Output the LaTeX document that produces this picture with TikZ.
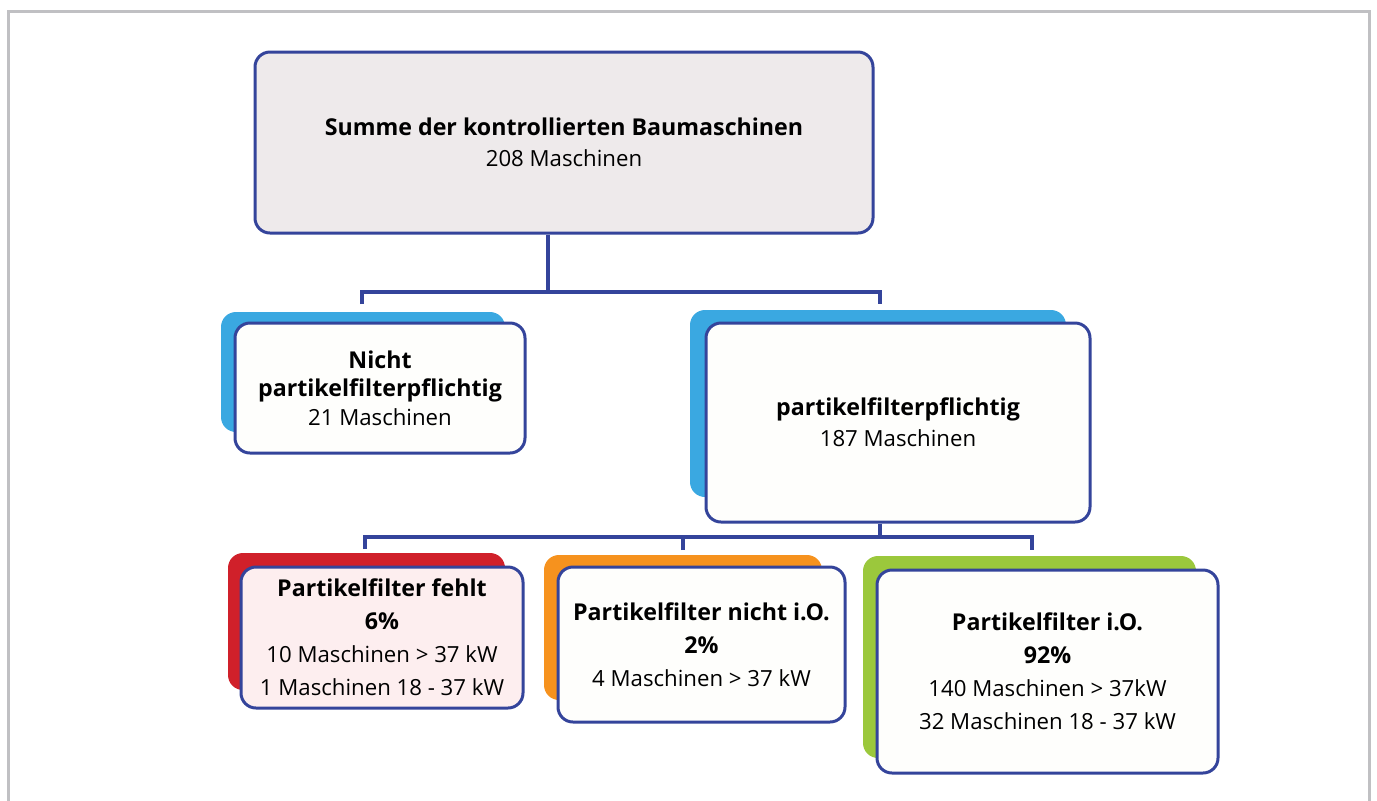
\documentclass[tikz,border=0pt]{standalone}
\usepackage{fontspec}
\setmainfont{Open Sans}
\definecolor{bordblue}{RGB}{52,68,155}
\definecolor{shblue}{RGB}{58,168,225}
\definecolor{shred}{RGB}{208,32,42}
\definecolor{shorange}{RGB}{246,146,30}
\definecolor{shgreen}{RGB}{155,200,60}
\definecolor{topfill}{RGB}{238,234,235}
\definecolor{pinkfill}{RGB}{253,238,239}
\definecolor{whitefill}{RGB}{254,254,252}
\definecolor{framegray}{RGB}{192,192,195}
\newcommand{\bl}[1]{{\fontsize{11.6}{14}\selectfont\bfseries #1}}
\tikzset{
  box/.style={draw=bordblue, line width=1.5pt, rounded corners=7.5pt, align=center, inner sep=0pt, font=\fontsize{11.1}{15.5}\selectfont},
  conn/.style={draw=bordblue, line width=1.6pt},
  frameline/.style={draw=framegray, line width=1.5pt},
  shadowbox/.style={rounded corners=7.5pt},
}
\begin{document}
\begin{tikzpicture}[x=0.5pt,y=-0.5pt]
\useasboundingbox (0,0) rectangle (1377,800);
\fill[white] (0,0) rectangle (1377,800);
\draw[frameline] (8.5,801) -- (8.5,11.5) -- (1369,11.5) -- (1369,801);

% shadows (drawn first)
\fill[shblue, shadowbox] (221,312) rectangle (505,432);
\fill[shblue, shadowbox] (690,310) rectangle (1066,497);
\fill[shred, shadowbox] (228,553) rectangle (505,690);
\fill[shorange, shadowbox] (544,555) rectangle (822,700);
\fill[shgreen, shadowbox] (863,556) rectangle (1196,758);

% boxes
\node[box, fill=topfill, minimum width=309pt, minimum height=90.5pt] (top) at (564,142.5)
  {\bl{Summe der kontrollierten Baumaschinen}\\208 Maschinen};
\node[box, fill=whitefill, minimum width=145pt, minimum height=65pt, font=\fontsize{11.1}{14.3}\selectfont] (lb) at (380,388)
  {\bl{Nicht}\\\bl{partikelfilterpflichtig}\\21 Maschinen};
\node[box, fill=whitefill, minimum width=192pt, minimum height=99.5pt] (rb) at (898,422.5)
  {\bl{partikelfilterpflichtig}\\187 Maschinen};
\node[box, fill=pinkfill, minimum width=141pt, minimum height=70.5pt, font=\fontsize{11.1}{16.5}\selectfont] (fehlt) at (382,637.5)
  {\bl{Partikelfilter fehlt}\\\bl{6\%}\\10 Maschinen > 37 kW\\1 Maschinen 18 - 37 kW};
\node[box, fill=whitefill, minimum width=143.5pt, minimum height=77.5pt, font=\fontsize{11.1}{16.5}\selectfont] (nio) at (701.5,644.5)
  {\bl{Partikelfilter nicht i.O.}\\\bl{2\%}\\4 Maschinen > 37 kW};
\node[box, fill=whitefill, minimum width=170.5pt, minimum height=101.5pt, font=\fontsize{11.1}{16.5}\selectfont] (io) at (1047.5,671.5)
  {\bl{Partikelfilter i.O.}\\\bl{92\%}\\140 Maschinen > 37kW\\32 Maschinen 18 - 37 kW};

% upper connectors
\coordinate (j1) at (548,292);
\coordinate (jl) at (362,304);
\coordinate (jr) at (880,304);
\draw[conn] (top.south -| j1) -- (j1);
\draw[conn] (jl) |- (j1) -| (jr);

% lower connectors
\coordinate (j2) at (880,537);
\coordinate (t1) at (365,549);
\coordinate (t2) at (683,550);
\coordinate (t3) at (1032,550);
\draw[conn] (rb.south -| j2) -- (j2);
\draw[conn] (t1) |- (j2) -| (t3);
\draw[conn] (t2) -- (t2 |- j2);
\end{tikzpicture}
\end{document}
